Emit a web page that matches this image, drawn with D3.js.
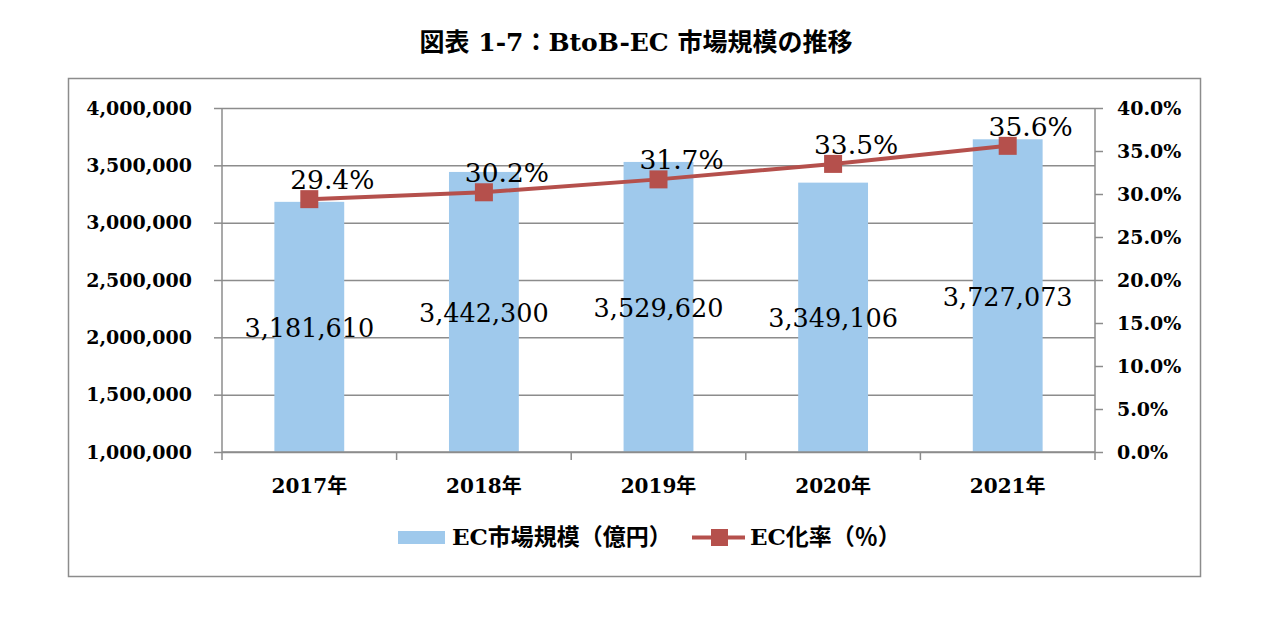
<!DOCTYPE html>
<html>
<head>
<meta charset="utf-8">
<script src="https://cdn.jsdelivr.net/npm/d3@7"></script>
<style>
  body { margin: 0; background: #fff; }
  text { font-family: "DejaVu Serif", "Noto Sans CJK JP", serif; fill: #000; }
</style>
</head>
<body>
<script>
// chart data
var years = ["2017年", "2018年", "2019年", "2020年", "2021年"];
var marketSize = [3181610, 3442300, 3529620, 3349106, 3727073];
var ecRate = [29.4, 30.2, 31.7, 33.5, 35.6];
var leftTicks = [1000000, 1500000, 2000000, 2500000, 3000000, 3500000, 4000000];
var rightTicks = [0, 5, 10, 15, 20, 25, 30, 35, 40];

var width = 1273, height = 640;
var plot = { left: 222, right: 1095, top: 108, bottom: 452 };
var barColor = "#9FC9EC", lineColor = "#B5504C", gridColor = "#8c8c8c";

var svg = d3.select("body").append("svg")
    .attr("width", width)
    .attr("height", height);

// outer frame
svg.append("rect")
    .attr("x", 68.5).attr("y", 78.5)
    .attr("width", 1132).attr("height", 498)
    .attr("fill", "none")
    .attr("stroke", "#8c8c8c")
    .attr("stroke-width", 1.5);

// title
svg.append("text")
    .attr("x", 636).attr("y", 51)
    .attr("text-anchor", "middle")
    .style("font-size", "25px")
    .style("font-weight", "bold")
    .text("図表 1-7：BtoB-EC 市場規模の推移");

var x = d3.scaleBand()
    .domain(years)
    .range([plot.left, plot.right])
    .paddingInner(0.6)
    .paddingOuter(0.3);

var xTicks = d3.scaleBand().domain(years).range([plot.left, plot.right]);

var yL = d3.scaleLinear().domain([1000000, 4000000]).range([plot.bottom, plot.top]);
var yR = d3.scaleLinear().domain([0, 40]).range([plot.bottom, plot.top]);

// gridlines
svg.append("g")
    .selectAll("line")
    .data(leftTicks)
    .enter().append("line")
    .attr("x1", plot.left).attr("x2", plot.right)
    .attr("y1", function(d) { return yL(d) + 0.5; })
    .attr("y2", function(d) { return yL(d) + 0.5; })
    .attr("stroke", gridColor)
    .attr("stroke-width", 1.5);

// bars
svg.append("g")
    .selectAll("rect")
    .data(marketSize)
    .enter().append("rect")
    .attr("x", function(d, i) { return x(years[i]); })
    .attr("width", x.bandwidth())
    .attr("y", function(d) { return yL(d); })
    .attr("height", function(d) { return plot.bottom - yL(d); })
    .attr("fill", barColor);

// left axis
var leftAxis = d3.axisLeft(yL)
    .tickValues(leftTicks)
    .tickSize(8)
    .tickPadding(22)
    .tickFormat(d3.format(","));
var gL = svg.append("g")
    .attr("transform", "translate(" + plot.left + ",0)")
    .call(leftAxis);

// right axis
var rightAxis = d3.axisRight(yR)
    .tickValues(rightTicks)
    .tickSize(8)
    .tickPadding(14)
    .tickFormat(function(d) { return d.toFixed(1) + "%"; });
var gR = svg.append("g")
    .attr("transform", "translate(" + plot.right + ",0)")
    .call(rightAxis);

// bottom axis
var bottomAxis = d3.axisBottom(xTicks)
    .tickSize(0)
    .tickPadding(41);
var gB = svg.append("g")
    .attr("transform", "translate(0," + plot.bottom + ")")
    .call(bottomAxis);
gB.selectAll(".tick text").attr("dy", "0");
gB.append("g")
    .selectAll("line")
    .data(d3.range(years.length + 1))
    .enter().append("line")
    .attr("x1", function(i) { return plot.left + i * xTicks.step(); })
    .attr("x2", function(i) { return plot.left + i * xTicks.step(); })
    .attr("y1", 0).attr("y2", 8)
    .attr("stroke", gridColor)
    .attr("stroke-width", 1.5);

[gL, gR, gB].forEach(function(g) {
  g.selectAll(".domain").attr("stroke", gridColor).attr("stroke-width", 1.5);
  g.selectAll(".tick line").attr("stroke", gridColor).attr("stroke-width", 1.5);
  g.selectAll(".tick text")
    .style("font-size", "19px")
    .style("font-weight", "bold")
    .style("font-family", "'DejaVu Serif', 'Noto Sans CJK JP', serif")
    .attr("fill", "#000");
});
gB.selectAll(".tick text").style("font-size", "20px");
gL.select(".domain").attr("d", "M0," + plot.top + "V" + plot.bottom);
gR.select(".domain").attr("d", "M0," + plot.top + "V" + plot.bottom);
gB.select(".domain").attr("d", "M" + plot.left + ",0H" + plot.right);

// bar value labels
svg.append("g")
    .selectAll("text")
    .data(marketSize)
    .enter().append("text")
    .attr("x", function(d, i) { return x(years[i]) + x.bandwidth() / 2; })
    .attr("y", function(d) { return (yL(d) + plot.bottom) / 2 + 10; })
    .attr("text-anchor", "middle")
    .style("font-size", "25.5px")
    .text(d3.format(","));

// rate line
var cx = function(i) { return x(years[i]) + x.bandwidth() / 2; };
var line = d3.line()
    .x(function(d, i) { return cx(i); })
    .y(function(d) { return yR(d); });

svg.append("path")
    .datum(ecRate)
    .attr("d", line)
    .attr("fill", "none")
    .attr("stroke", lineColor)
    .attr("stroke-width", 4);

svg.append("g")
    .selectAll("rect")
    .data(ecRate)
    .enter().append("rect")
    .attr("x", function(d, i) { return cx(i) - 9; })
    .attr("y", function(d) { return yR(d) - 9; })
    .attr("width", 18).attr("height", 18)
    .attr("fill", lineColor);

svg.append("g")
    .selectAll("text")
    .data(ecRate)
    .enter().append("text")
    .attr("x", function(d, i) { return cx(i) + 23; })
    .attr("y", function(d) { return yR(d) - 10; })
    .attr("text-anchor", "middle")
    .style("font-size", "26.5px")
    .text(function(d) { return d.toFixed(1) + "%"; });

// legend
var legend = svg.append("g");
legend.append("rect")
    .attr("x", 398).attr("y", 531)
    .attr("width", 47).attr("height", 13)
    .attr("fill", barColor);
legend.append("text")
    .attr("x", 452).attr("y", 545)
    .style("font-size", "23px")
    .style("font-weight", "bold")
    .text("EC市場規模（億円）");
legend.append("line")
    .attr("x1", 692).attr("x2", 745)
    .attr("y1", 537.5).attr("y2", 537.5)
    .attr("stroke", lineColor)
    .attr("stroke-width", 4);
legend.append("rect")
    .attr("x", 711).attr("y", 529)
    .attr("width", 17).attr("height", 17)
    .attr("fill", lineColor);
legend.append("text")
    .attr("x", 750).attr("y", 545)
    .style("font-size", "23px")
    .style("font-weight", "bold")
    .text("EC化率（％）");
</script>
</body>
</html>
